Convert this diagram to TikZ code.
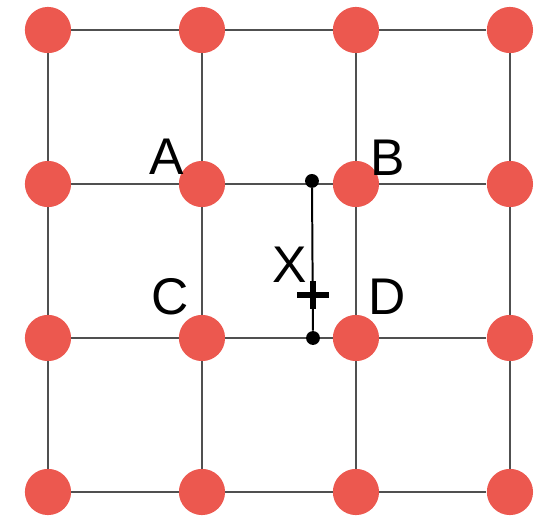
\documentclass[tikz,border=0pt]{standalone}
\usepackage{fontspec}
\setmainfont{Liberation Sans}
\usepackage{tikz}
\definecolor{dotred}{RGB}{236,88,79}
\definecolor{gridgray}{RGB}{80,80,80}
\tikzset{site/.style = {shape = circle, fill = dotred, minimum size = 0.9cm, inner sep = 0pt}}
\tikzset{bond/.style = {draw = gridgray, line width = 1pt}}
\tikzset{probe/.style = {shape = circle, fill = black, minimum size = 0.27cm, inner sep = 0pt}}
\tikzset{tag/.style = {font = \fontsize{28.6}{30}\selectfont, inner sep = 0pt}}

\begin{document}
\begin{tikzpicture}
			\useasboundingbox (-0.935, -0.545) rectangle (9.488, 9.585);

			\node[site] (a) at (0, 9) {};
			\node[site] (b) at (3, 9) {};
			\node[site] (c) at (6, 9) {};
			\node[site] (d) at (9, 9) {};
			\node[site] (e) at (0, 6) {};
			\node[site] (f) at (3, 6) {};
			\node[site] (g) at (6, 6) {};
			\node[site] (h) at (9, 6) {};
			\node[site] (i) at (0, 3) {};
			\node[site] (j) at (3, 3) {};
			\node[site] (k) at (6, 3) {};
			\node[site] (l) at (9, 3) {};
			\node[site] (m) at (0, 0) {};
			\node[site] (n) at (3, 0) {};
			\node[site] (o) at (6, 0) {};
			\node[site] (p) at (9, 0) {};

			\draw[bond] (a) to (b);
			\draw[bond] (b) to (c);
			\draw[bond] (c) to (d);
			\draw[bond] (e) to (f);
			\draw[bond] (f) to (g);
			\draw[bond] (g) to (h);
			\draw[bond] (i) to (j);
			\draw[bond] (j) to (k);
			\draw[bond] (k) to (l);
			\draw[bond] (m) to (n);
			\draw[bond] (n) to (o);
			\draw[bond] (o) to (p);
			\draw[bond] (a) to (e);
			\draw[bond] (e) to (i);
			\draw[bond] (i) to (m);
			\draw[bond] (b) to (f);
			\draw[bond] (f) to (j);
			\draw[bond] (j) to (n);
			\draw[bond] (c) to (g);
			\draw[bond] (g) to (k);
			\draw[bond] (k) to (o);
			\draw[bond] (d) to (h);
			\draw[bond] (h) to (l);
			\draw[bond] (l) to (p);

			\node[probe] (top) at (5.143, 6.06) {};
			\node[probe] (bot) at (5.163, 3.0) {};
			\draw[line width = 1.1pt] (top) to (bot);

			\coordinate (x) at (5.163, 3.838);
			\draw[line width = 2.8pt] ([xshift = -0.31cm]x) -- ([xshift = 0.31cm]x);
			\draw[line width = 2.8pt] ([yshift = -0.27cm]x) -- ([yshift = 0.27cm]x);

			\node[tag] (la) at (2.318, 6.526) {A};
			\node[tag] (lb) at (6.624, 6.507) {B};
			\node[tag] (lc) at (2.377, 3.799) {C};
			\node[tag] (ld) at (6.604, 3.799) {D};
			\node[tag] (lx) at (4.715, 4.42) {X};
		\end{tikzpicture}
\end{document}
